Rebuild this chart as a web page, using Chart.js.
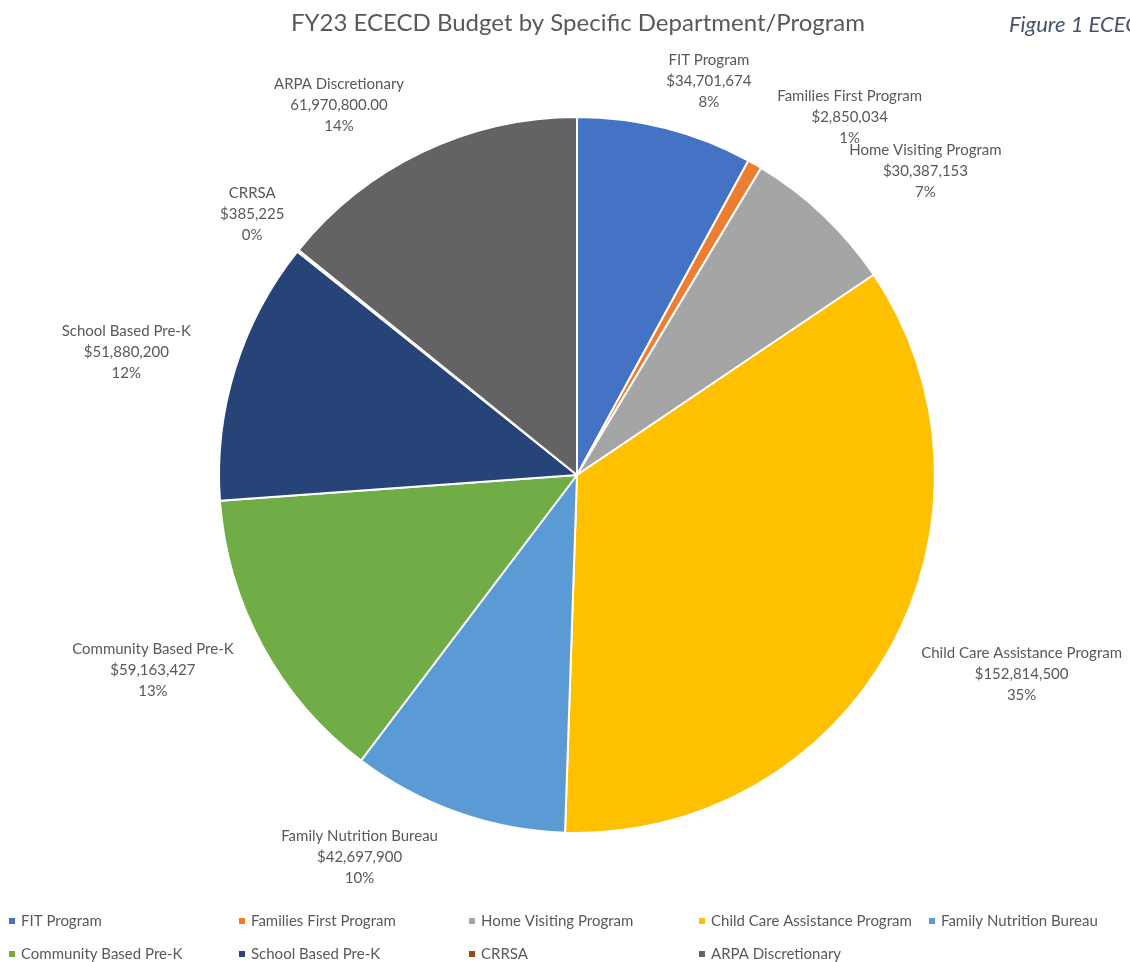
<!DOCTYPE html>
<html>
<head>
<meta charset="utf-8">
<script src="https://cdn.jsdelivr.net/npm/chart.js@4.4.1/dist/chart.umd.min.js"></script>
<style>
  html, body { margin: 0; padding: 0; background: #fff; overflow: hidden; }
  canvas { display: block; }
</style>
</head>
<body>
<canvas id="chart-budget" width="1130" height="962"></canvas>
<script>
const categories = [
    'FIT Program', 'Families First Program', 'Home Visiting Program',
    'Child Care Assistance Program', 'Family Nutrition Bureau',
    'Community Based Pre-K', 'School Based Pre-K', 'CRRSA', 'ARPA Discretionary'
];
const budgets = [34701674, 2850034, 30387153, 152814500, 42697900, 59163427, 51880200, 385225, 61970800];
// percentages as printed on the source chart (Excel's own rounding)
const percents = [8, 1, 7, 35, 10, 13, 12, 0, 14];
// the ARPA label is printed without the dollar sign and with cents
const valueFormats = ['currency', 'currency', 'currency', 'currency', 'currency', 'currency', 'currency', 'currency', 'plain'];
const sliceColors = ['#4472C4', '#ED7D31', '#A5A5A5', '#FFC000', '#5B9BD5', '#70AD47', '#264478', '#9E480E', '#636363'];

const FONT = 'Lato, "Open Sans", sans-serif';
const TEXT = '#595959';

// small shifts so labels sit where Excel's "best fit" put them
const labelNudge = [[28, 3], [49, -2], [36, -7], [26, 1], [-65, -4], [-21, 0], [-28, -1], [-5, -4], [-47, 0]];

function fmtValue(v, kind) {
    if (kind == 'plain') return v.toLocaleString('en-US', {minimumFractionDigits: 2, maximumFractionDigits: 2});
    return '$' + v.toLocaleString('en-US');
}

const labelsPlugin = {
    id: 'sliceLabels',
    afterDatasetsDraw(chart) {
        const ctx = chart.ctx;
        const arcs = chart.getDatasetMeta(0).data;
        const lineH = 21;
        ctx.save();
        ctx.font = '15px ' + FONT;
        ctx.fillStyle = TEXT;
        ctx.textAlign = 'center';
        ctx.textBaseline = 'middle';
        arcs.forEach((arc, i) => {
            const {x, y, startAngle, endAngle, outerRadius} = arc.getProps(['x', 'y', 'startAngle', 'endAngle', 'outerRadius'], true);
            const mid = (startAngle + endAngle) / 2;
            const dx = Math.cos(mid), dy = Math.sin(mid);
            const lines = [categories[i], fmtValue(budgets[i], valueFormats[i]), percents[i] + '%'];
            const w = Math.max(...lines.map(l => ctx.measureText(l).width));
            const h = lineH * lines.length;
            const r = outerRadius + 20;
            const cx = x + dx * r + dx * w / 2 + labelNudge[i][0];
            const cy = y + dy * r + dy * h / 2 + labelNudge[i][1];
            lines.forEach((l, k) => ctx.fillText(l, cx, cy - h / 2 + lineH * (k + 0.5)));
        });
        ctx.restore();
    },
    afterDraw(chart) {
        const ctx = chart.ctx;
        ctx.save();
        // title
        ctx.font = '24px ' + FONT;
        ctx.fillStyle = TEXT;
        ctx.textAlign = 'center';
        ctx.textBaseline = 'middle';
        ctx.fillText('FY23 ECECD Budget by Specific Department/Program', 578, 23);
        // caption that runs off the right edge
        ctx.font = 'italic 22px ' + FONT;
        ctx.fillStyle = '#44546A';
        ctx.textAlign = 'left';
        ctx.fillText('Figure 1 ECECD Budget', 1009, 25);
        // legend, Excel style grid
        ctx.font = '15px ' + FONT;
        const colW = 230, perRow = 5;
        categories.forEach((name, i) => {
            const col = i % perRow, row = Math.floor(i / perRow);
            const lx = 9 + col * colW, ly = 921 + row * 33;
            ctx.fillStyle = sliceColors[i];
            ctx.fillRect(lx, ly - 3, 6, 6);
            ctx.fillStyle = TEXT;
            ctx.fillText(name, lx + 12, ly);
        });
        ctx.restore();
    }
};

const budgetChart = new Chart(document.getElementById('chart-budget'), {
    type: 'pie',
    data: {
        labels: categories,
        datasets: [{
            data: budgets,
            backgroundColor: sliceColors,
            borderColor: '#ffffff',
            borderWidth: 2,
            hoverOffset: 0
        }]
    },
    options: {
        responsive: false,
        animation: false,
        devicePixelRatio: 1,
        layout: { padding: { top: 116, bottom: 128, left: 218, right: 194 } },
        plugins: {
            legend: { display: false },
            tooltip: { enabled: false }
        }
    },
    plugins: [labelsPlugin]
});
</script>
</body>
</html>
